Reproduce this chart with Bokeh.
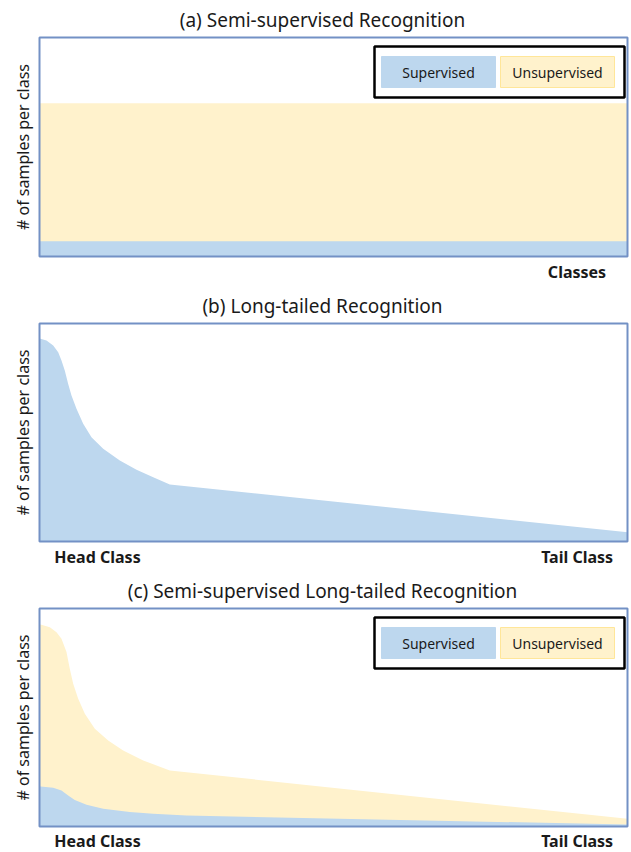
import math
from bokeh.plotting import figure
from bokeh.models import Range1d, Label, BoxAnnotation
from bokeh.layouts import column
from bokeh.embed import file_html
from bokeh.resources import INLINE

# ---------------- data ----------------
titles = ["(a) Semi-supervised Recognition",
          "(b) Long-tailed Recognition",
          "(c) Semi-supervised Long-tailed Recognition"]
y_label = "# of samples per class"
legend_labels = ["Supervised", "Unsupervised"]
x_labels_a = ["Classes"]
x_labels_lt = ["Head Class", "Tail Class"]

# (a) balanced classes
classes_a = [0, 100]
supervised_a = [7, 7]
total_a = [70, 70]

# (b) long-tailed (all supervised)
classes_b = [0, 0.17, 1.19, 2.33, 3.18, 3.74, 4.30, 4.88, 5.44, 6.29, 7.43, 8.84,
             10.83, 13.66, 16.50, 19.34, 22.16, 100]
supervised_b = [93.0, 93.0, 92.2, 89.9, 86.8, 83.0, 78.4, 72.3, 67.0, 60.9, 54.0, 47.8,
                42.5, 37.2, 32.9, 29.5, 26.1, 4.3]

# (c) semi-supervised long-tailed
classes_c_total = [0, 0.17, 1.76, 2.89, 3.74, 4.59, 5.16, 5.73, 6.58, 7.71, 9.41, 11.68,
                   14.23, 17.64, 22.16, 100]
total_c = [92.7, 92.7, 91.4, 89.1, 86.1, 80.0, 72.3, 65.5, 58.6, 51.7, 44.8, 39.4,
           34.9, 30.3, 25.7, 3.5]
classes_c_sup = [0, 0.17, 2.33, 3.74, 4.88, 6.0, 8.0, 10.83, 15.36, 19.34, 25.0, 100]
supervised_c = [18.3, 18.3, 17.8, 16.5, 14.2, 12.2, 10.0, 8.1, 6.6, 5.8, 5.0, 0.9]

# ---------------- style / layout ----------------
BLUE = "#BDD7EE"
YELLOW = "#FFF2CC"
YELLOW_EDGE = "#FFE699"
FRAME = "#7391C5"
TEXT = "#1a1a1a"
FONT = "Noto Sans"
W = 631
FL, FR = 39, 627          # panel frame left / right (px)
SX = (FR - FL) / 100.0    # px per x unit


def make_fig(height, top, bottom, title):
    sy = (bottom - top) / 100.0
    p = figure(width=W, height=height,
               x_range=Range1d(-FL / SX, 100 + (W - FR) / SX),
               y_range=Range1d(-(height - bottom) / sy, 100 + top / sy),
               output_backend="svg", toolbar_location=None,
               x_axis_location=None, y_axis_location=None,
               min_border=0, min_border_left=0, min_border_right=0,
               min_border_top=0, min_border_bottom=0)
    p.grid.visible = False
    p.outline_line_color = None
    p.background_fill_color = "white"
    p.border_fill_color = "white"
    p.add_layout(Label(x=(322 - FL) / SX, y=100 + 18 / sy, text=title,
                       text_align="center", text_baseline="middle",
                       text_font=FONT, text_font_size="19px", text_color=TEXT))
    p.add_layout(Label(x=(22 - FL) / SX, y=50, text=y_label, angle=math.pi / 2,
                       text_align="center", text_baseline="middle",
                       text_font=FONT, text_font_size="16px", text_color=TEXT))
    return p, sy


def add_frame(p):
    p.add_layout(BoxAnnotation(left=0, right=100, bottom=0, top=100,
                               fill_alpha=0, line_color=FRAME, line_alpha=1, line_width=2))


def add_legend(p, sy):
    p.add_layout(BoxAnnotation(left=(374 - FL) / SX, right=(624 - FL) / SX,
                               top=100 - 9 / sy, bottom=100 - 60 / sy,
                               fill_color="white", fill_alpha=1, line_color="black",
                               line_alpha=1, line_width=2.5))
    p.add_layout(BoxAnnotation(left=(381 - FL) / SX, right=(495 - FL) / SX,
                               top=100 - 19 / sy, bottom=100 - 50 / sy,
                               fill_color=BLUE, fill_alpha=1, line_color=BLUE,
                               line_alpha=1, line_width=1))
    p.add_layout(BoxAnnotation(left=(500 - FL) / SX, right=(614 - FL) / SX,
                               top=100 - 19 / sy, bottom=100 - 50 / sy,
                               fill_color=YELLOW, fill_alpha=1, line_color=YELLOW_EDGE,
                               line_alpha=1, line_width=1))
    for xc, t in zip([438, 557], legend_labels):
        p.add_layout(Label(x=(xc - FL) / SX, y=100 - 34.5 / sy, text=t, text_align="center",
                           text_baseline="middle", text_font=FONT, text_font_size="14px",
                           text_color=TEXT))


def add_xlabels(p, sy, texts, xs, dy):
    for xc, t in zip(xs, texts):
        p.add_layout(Label(x=(xc - FL) / SX, y=-dy / sy, text=t, text_align="center",
                           text_baseline="middle", text_font=FONT, text_font_size="16px",
                           text_font_style="bold", text_color=TEXT))


# (a)
pa, sya = make_fig(290, 37, 256, titles[0])
pa.varea(x=classes_a, y1=0, y2=total_a, fill_color=YELLOW)
pa.varea(x=classes_a, y1=0, y2=supervised_a, fill_color=BLUE)
add_frame(pa)
add_legend(pa, sya)
add_xlabels(pa, sya, x_labels_a, [576.5], 15)

# (b)
pb, syb = make_fig(285, 33, 251, titles[1])
pb.varea(x=classes_b, y1=0, y2=supervised_b, fill_color=BLUE)
add_frame(pb)
add_xlabels(pb, syb, x_labels_lt, [97, 576.6], 15.7)

# (c)
pc, syc = make_fig(277, 33, 251, titles[2])
pc.varea(x=classes_c_total, y1=0, y2=total_c, fill_color=YELLOW)
pc.varea(x=classes_c_sup, y1=0, y2=supervised_c, fill_color=BLUE)
add_frame(pc)
add_legend(pc, syc)
add_xlabels(pc, syc, x_labels_lt, [97, 576.6], 14.5)

layout = column(pa, pb, pc, spacing=0)
open("out.html", "w").write(file_html(layout, INLINE))
